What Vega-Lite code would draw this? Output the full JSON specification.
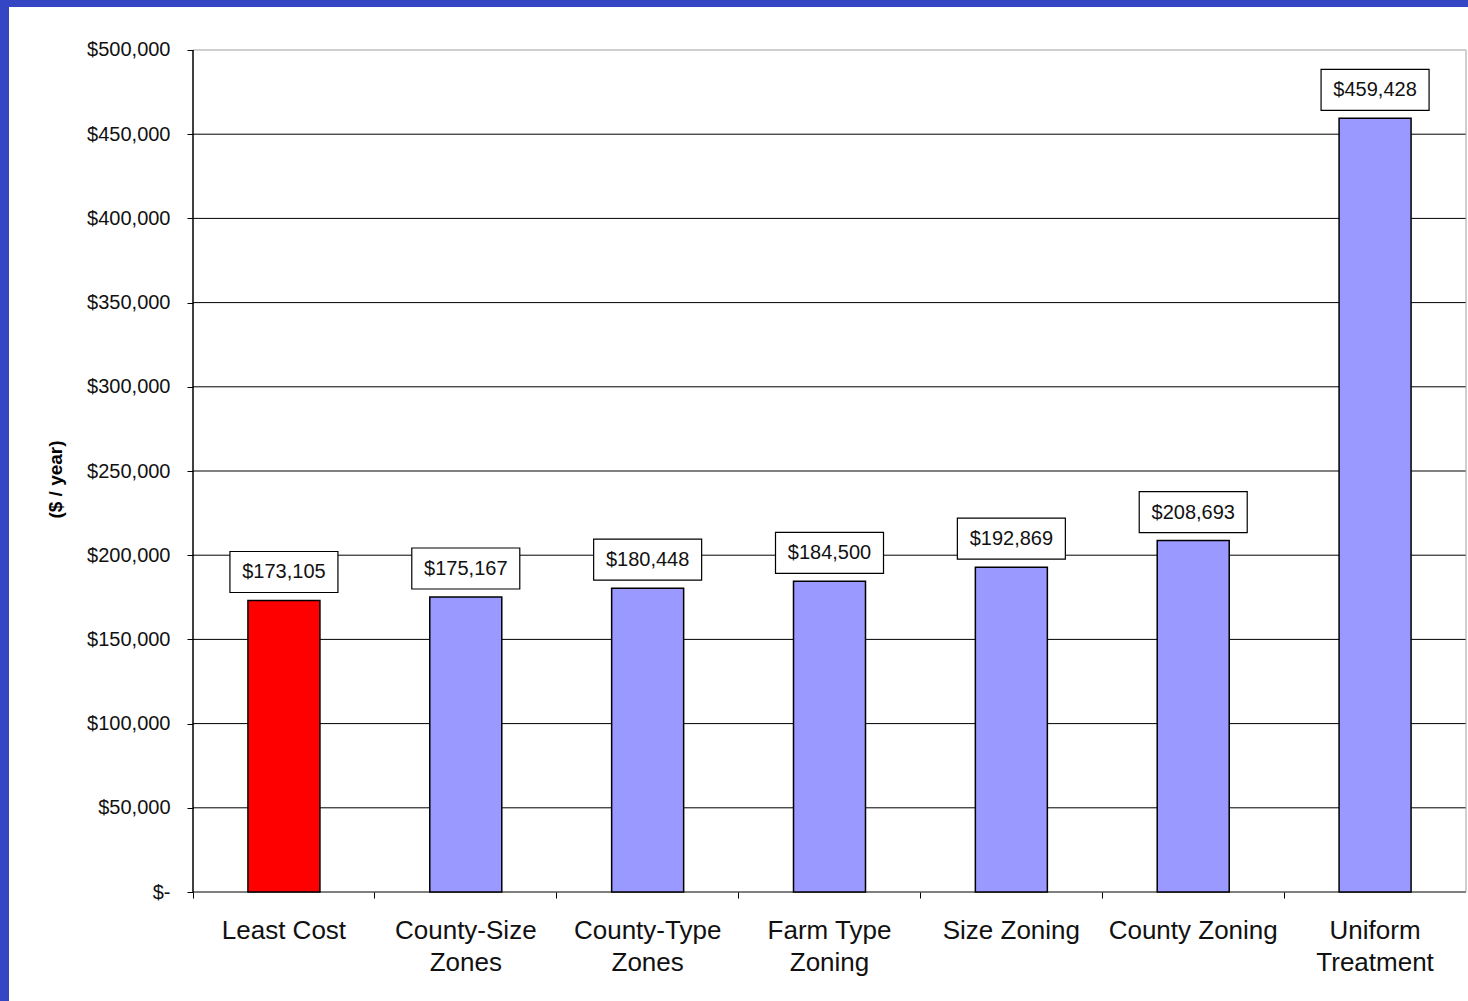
{
  "$schema": "https://vega.github.io/schema/vega-lite/v6.json",
  "width": 1459,
  "height": 994,
  "autosize": "none",
  "padding": {"left": 9, "top": 7, "right": 0, "bottom": 0},
  "background": "#3446C4",
  "config": {"view": {"fill": "white", "stroke": null}, "font": "Liberation Sans"},
  "datasets": {
    "costs": [
      {"cat": "Least Cost", "value": 173105, "highlight": "yes"},
      {"cat": "County-Size Zones", "value": 175167, "highlight": "no"},
      {"cat": "County-Type Zones", "value": 180448, "highlight": "no"},
      {"cat": "Farm Type Zoning", "value": 184500, "highlight": "no"},
      {"cat": "Size Zoning", "value": 192869, "highlight": "no"},
      {"cat": "County Zoning", "value": 208693, "highlight": "no"},
      {"cat": "Uniform Treatment", "value": 459428, "highlight": "no"}
    ],
    "gridlines": [
      {"v": 0}, {"v": 50000}, {"v": 100000}, {"v": 150000}, {"v": 200000},
      {"v": 250000}, {"v": 300000}, {"v": 350000}, {"v": 400000}, {"v": 450000}
    ],
    "frametop": [{"v": 500000}],
    "span": [{"lo": 0, "hi": 500000}]
  },
  "layer": [
    {
      "data": {"name": "gridlines"},
      "mark": {"type": "rule", "stroke": "#000000", "strokeWidth": 1},
      "encoding": {
        "x": {"datum": "Least Cost", "type": "nominal", "bandPosition": 0,
              "scale": {"domain": ["Least Cost", "County-Size Zones", "County-Type Zones", "Farm Type Zoning", "Size Zoning", "County Zoning", "Uniform Treatment"], "paddingInner": 0, "paddingOuter": 0.5114, "align": 0.98925},
              "axis": {"title": null, "orient": "bottom", "offset": -109, "domain": false, "grid": false,
                       "bandPosition": 0, "ticks": true, "tickSize": 6, "tickColor": "#000", "tickWidth": 1,
                       "labelAngle": 0, "labelPadding": 19, "labelFontSize": 26, "labelColor": "#111",
                       "labelLineHeight": 32, "labelLimit": 0, "labelBaseline": "top",
                       "labelExpr": "datum.value == 'County-Size Zones' ? ['County-Size', 'Zones'] : datum.value == 'County-Type Zones' ? ['County-Type', 'Zones'] : datum.value == 'Farm Type Zoning' ? ['Farm Type', 'Zoning'] : datum.value == 'Uniform Treatment' ? ['Uniform', 'Treatment'] : datum.value"}},
        "x2": {"datum": "Uniform Treatment", "bandPosition": 1},
        "y": {"field": "v", "type": "quantitative",
              "scale": {"domain": [-64726.84, 525534.44], "nice": false, "zero": false},
              "axis": {"values": [0, 50000, 100000, 150000, 200000, 250000, 300000, 350000, 400000, 450000, 500000],
                       "offset": -184, "domain": false, "grid": false, "tickSize": 6, "tickColor": "#000", "tickWidth": 1,
                       "labelPadding": 17, "labelFontSize": 20, "labelColor": "#111",
                       "labelExpr": "datum.value == 0 ? '$-' : format(datum.value, '$,.0f')",
                       "title": "($ / year)", "titleFontSize": 19, "titleFontWeight": "bold", "titleColor": "#000",
                       "titleX": -138, "titleY": 472, "titleAngle": -90, "titleBaseline": "middle", "titleAlign": "center"}}
      }
    },
    {
      "data": {"name": "frametop"},
      "mark": {"type": "rule", "stroke": "#A0A0A0", "strokeWidth": 1},
      "encoding": {
        "x": {"datum": "Least Cost", "type": "nominal", "bandPosition": 0},
        "x2": {"datum": "Uniform Treatment", "bandPosition": 1},
        "y": {"field": "v", "type": "quantitative"}
      }
    },
    {
      "data": {"name": "span"},
      "mark": {"type": "rule", "stroke": "#A0A0A0", "strokeWidth": 1},
      "encoding": {
        "x": {"datum": "Uniform Treatment", "type": "nominal", "bandPosition": 1},
        "y": {"field": "lo", "type": "quantitative"},
        "y2": {"field": "hi"}
      }
    },
    {
      "data": {"name": "costs"},
      "mark": {"type": "bar", "width": 72, "stroke": "#000000", "strokeWidth": 1.5},
      "encoding": {
        "x": {"field": "cat", "type": "nominal", "sort": null},
        "y": {"field": "value", "type": "quantitative"},
        "y2": {"datum": 0},
        "fill": {"field": "highlight", "type": "nominal", "legend": null,
                 "scale": {"domain": ["yes", "no"], "range": ["#FF0000", "#9999FF"]}}
      }
    },
    {
      "data": {"name": "span"},
      "mark": {"type": "rule", "stroke": "#000000", "strokeWidth": 1.5},
      "encoding": {
        "x": {"datum": "Least Cost", "type": "nominal", "bandPosition": 0},
        "y": {"field": "lo", "type": "quantitative"},
        "y2": {"field": "hi"}
      }
    },
    {
      "data": {"name": "costs"},
      "mark": {"type": "bar", "width": 108, "fill": "white", "stroke": "#000000", "strokeWidth": 1.2, "yOffset": -49, "y2Offset": -8},
      "encoding": {
        "x": {"field": "cat", "type": "nominal", "sort": null},
        "y": {"field": "value", "type": "quantitative"},
        "y2": {"field": "value"}
      }
    },
    {
      "data": {"name": "costs"},
      "mark": {"type": "text", "fontSize": 20, "baseline": "middle", "align": "center", "fill": "#111", "yOffset": -28},
      "encoding": {
        "x": {"field": "cat", "type": "nominal", "sort": null},
        "y": {"field": "value", "type": "quantitative"},
        "text": {"field": "value", "type": "quantitative", "format": "$,.0f"}
      }
    }
  ]
}
